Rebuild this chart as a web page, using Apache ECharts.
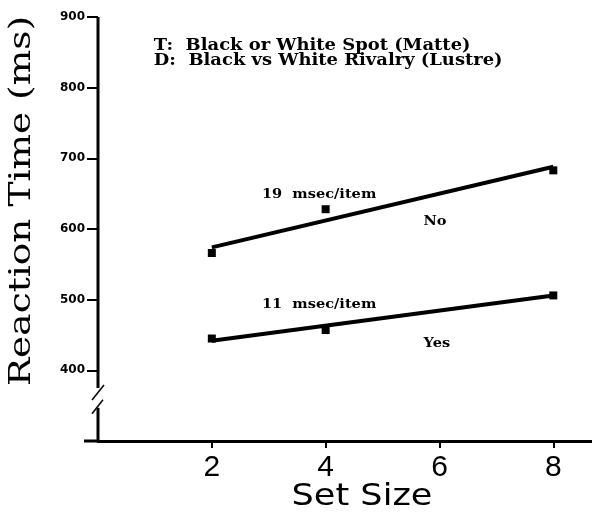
<!DOCTYPE html>
<html>
<head>
<meta charset="utf-8">
<script src="https://cdn.jsdelivr.net/npm/echarts@6/dist/echarts.min.js"></script>
<style>
html,body{margin:0;padding:0;background:#fff;}
#main{width:592px;height:516px;}
</style>
</head>
<body>
<div id="main"></div>
<script>
// ---- data ----
var setSizes = [2, 4, 8];
var noRT = [566, 628, 683];
var yesRT = [445, 457, 506];
var fitX = [2, 8];
var noFit = [574, 688];
var yesFit = [442, 506];
var yTicks = [400, 500, 600, 700, 800, 900];
var xTicks = [2, 4, 6, 8];
var legendLines = ['T:  Black or White Spot (Matte)', 'D:  Black vs White Rivalry (Lustre)'];
var noSlopeText = '19  msec/item';
var yesSlopeText = '11  msec/item';
var xTitle = 'Set Size';
var yTitle = 'Reaction Time (ms)';

function pairs(xs, ys) { return xs.map(function (x, i) { return [x, ys[i]]; }); }

var chart = echarts.init(document.getElementById('main'));
var option = {
  animation: false,
  backgroundColor: '#fff',
  grid: { left: 98, right: 0, top: 17, bottom: 75 },
  xAxis: {
    type: 'value', min: 0, max: 8.68,
    axisLine: { show: true, lineStyle: { color: '#000', width: 3 } },
    axisTick: { show: true, length: 7, customValues: xTicks, lineStyle: { color: '#000', width: 2 } },
    axisLabel: { customValues: xTicks, margin: 12, fontFamily: 'Liberation Sans', fontSize: 30, color: '#000' },
    splitLine: { show: false }
  },
  yAxis: {
    type: 'value', min: 300, max: 900,
    axisLine: { show: false },
    axisTick: { show: true, length: 11, customValues: yTicks, lineStyle: { color: '#000', width: 2 } },
    axisLabel: { customValues: yTicks, margin: 13, fontFamily: 'DejaVu Sans', fontWeight: 'bold', fontSize: 12, color: '#000' },
    splitLine: { show: false }
  },
  series: [
    { type: 'line', data: pairs(fitX, noFit), showSymbol: false, lineStyle: { color: '#000', width: 4 } },
    { type: 'line', data: pairs(fitX, yesFit), showSymbol: false, lineStyle: { color: '#000', width: 4 } },
    { type: 'scatter', data: pairs(setSizes, noRT), symbol: 'rect', symbolSize: 8, itemStyle: { color: '#000', opacity: 1 } },
    { type: 'scatter', data: pairs(setSizes, yesRT), symbol: 'rect', symbolSize: 8, itemStyle: { color: '#000', opacity: 1 } }
  ]
};
chart.setOption(option);

function px(x, y) { return chart.convertToPixel({ gridIndex: 0 }, [x, y]); }
var pTop = px(0, 900), brk1 = px(0, 375), brk2 = px(0, 347), pBot = px(0, 300);
var ax = pTop[0];
var lineStyle = { stroke: '#000', lineWidth: 3 };
var txtFont = 'bold 16px "DejaVu Serif"';
var annFont = 'bold 13px "DejaVu Serif"';
var pNo = px(2.88, 649), pNoLbl = px(5.72, 611);
var pYes = px(2.88, 493), pYesLbl = px(5.72, 438);
var legPos = px(0.98, 848);
chart.setOption({
  graphic: [
    { type: 'line', shape: { x1: ax, y1: pTop[1], x2: ax, y2: brk1[1] }, style: lineStyle },
    { type: 'line', shape: { x1: ax, y1: brk2[1], x2: ax, y2: pBot[1] }, style: lineStyle },
    { type: 'line', shape: { x1: ax - 6, y1: brk1[1] + 12, x2: ax + 6, y2: brk1[1] - 3 }, style: { stroke: '#000', lineWidth: 1.5 } },
    { type: 'line', shape: { x1: ax - 6, y1: brk2[1] + 6, x2: ax + 5, y2: brk2[1] - 8 }, style: { stroke: '#000', lineWidth: 1.5 } },
    { type: 'line', shape: { x1: ax - 14, y1: pBot[1], x2: ax, y2: pBot[1] }, style: lineStyle },
    { type: 'text', x: 22, y: 201, rotation: Math.PI / 2, scaleX: 1.25,
      style: { text: yTitle, font: '30px "DejaVu Serif"', fill: '#000', textAlign: 'center', textVerticalAlign: 'middle' } },
    { type: 'text', x: 362, y: 497, scaleX: 1.17,
      style: { text: xTitle, font: '30px "DejaVu Sans"', fill: '#000', textAlign: 'center', textVerticalAlign: 'middle' } },
    { type: 'text', x: legPos[0], y: legPos[1], scaleX: 1.12,
      style: { text: legendLines.join('\n'), font: txtFont, lineHeight: 15, fill: '#000', textVerticalAlign: 'middle' } },
    { type: 'text', x: pNo[0], y: pNo[1], scaleX: 1.12, style: { text: noSlopeText, font: annFont, fill: '#000', textVerticalAlign: 'middle' } },
    { type: 'text', x: pNoLbl[0], y: pNoLbl[1], scaleX: 1.12, style: { text: 'No', font: annFont, fill: '#000', textVerticalAlign: 'middle' } },
    { type: 'text', x: pYes[0], y: pYes[1], scaleX: 1.12, style: { text: yesSlopeText, font: annFont, fill: '#000', textVerticalAlign: 'middle' } },
    { type: 'text', x: pYesLbl[0], y: pYesLbl[1], scaleX: 1.12, style: { text: 'Yes', font: annFont, fill: '#000', textVerticalAlign: 'middle' } }
  ]
});
</script>
</body>
</html>
